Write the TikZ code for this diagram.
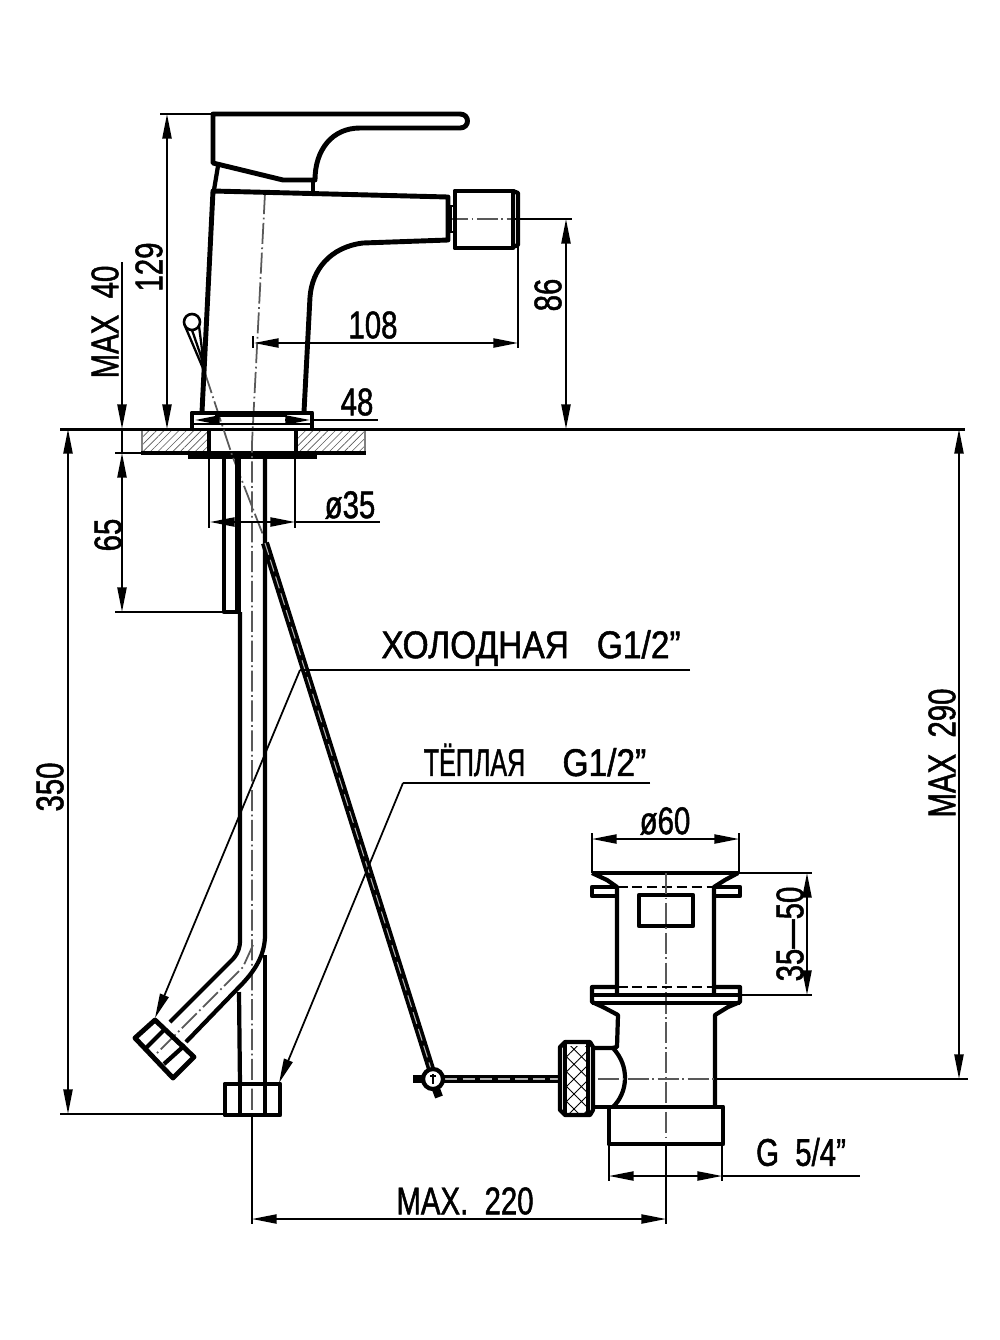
\documentclass[tikz,border=0pt]{standalone}
\usepackage{graphicx}
\usepackage{fontspec}
\setmainfont{Liberation Sans}[FakeStretch=0.76, FakeBold=1.2]
\usetikzlibrary{arrows.meta, patterns.meta}

\begin{document}
\begin{tikzpicture}[x=0.02cm, y=-0.02cm, >={Triangle[length=14pt, width=5.2pt]},
  part/.style={draw, line width=2.8pt, line join=round},
  wall/.style={draw, line width=2.4pt, line join=round},
  thinline/.style={draw, line width=1pt},
  dimline/.style={draw, line width=1pt, <->},
  axis/.style={draw, line width=1pt, gray!70!black, dash pattern=on 12pt off 2pt on 1pt off 2pt},
  hidden/.style={draw, line width=1.5pt, dash pattern=on 6pt off 2.5pt},
  rodline/.style={draw, line width=4.6pt},
  roddash/.style={draw=gray!60, line width=0.6pt, dash pattern=on 7pt off 3pt},
  dimlabel/.style={font=\fontsize{22}{22}\selectfont, inner sep=0pt},
  vlabel/.style={dimlabel, rotate=90},
  widelabel/.style={dimlabel, xscale=1.14}]

  \useasboundingbox[fill=white] (0,0) rectangle (1000,1340);

  % Counter top
  \path[pattern={Lines[angle=45, distance=3pt, line width=0.35pt]}, pattern color=gray!70!black]
    (142,431) rectangle (208,452) (297,431) rectangle (365,452);
  \draw[line width=0.6pt, gray] (142,431) -- (142,452) (365,431) -- (365,452);
  \draw[line width=2pt] (60,429.5) -- (965,429.5);
  \draw[line width=2.2pt] (141,453) -- (366,453);
  \draw[wall] (209,430) -- (209,453) (296,430) -- (296,453);
  \fill (188,454) rectangle (317,459);

  % Axes of the tap
  \path[axis] (265,193) -- (252,443) -- (252,1113);
  \path[axis] (447,219) -- (513,219);
  \path[axis] (205,373) -- (232,455) -- (265,540);

  % Lever
  \path[part] (213,114) -- (460,114) .. controls (470,114) and (470,128) .. (460,128) -- (360,128)
    .. controls (332,128) and (315,150) .. (315,180) -- (283,180) -- (213,163) -- cycle;
  \path[wall] (218,166) -- (214,190);
  \path[wall] (313,181) -- (313,192);

  % Body and spout
  \path[part] (202,412) -- (213,191) -- (448,197) -- (448,240) -- (363,243)
    .. controls (330,247) and (312,270) .. (310,297) -- (304,412);

  % Aerator
  \path[part] (455,191) rectangle (513,248);
  \path[wall] (513,191) -- (518,193) -- (518,245) -- (513,247);
  \path[thinline] (448,206) -- (455,206) (448,232) -- (455,232) (451,206) -- (451,232);

  % Flange
  \path[part] (192,428) -- (192,413) -- (312,413) -- (312,428);
  \draw[line width=1.4pt] (192,424) -- (312,424);
  \draw[line width=1pt] (215,416) -- (287,416);

  % Pull rod knob
  \draw[line width=1.5pt] (192,322) circle[radius=8];
  \draw[line width=1.3pt] (185,326) -- (205,373) (199,326) -- (205,373) (192,330) -- (203,362);

  % Outlet pipes
  \path[wall] (224,459) -- (224,612) -- (238,612);
  \draw[line width=3.8pt] (238,459) -- (238,612);
  \path[wall] (240,612) -- (240,940) .. controls (240,948) and (238,953) .. (233,959) -- (170,1022);
  \path[wall] (265,459) -- (265,935) .. controls (265,955) and (255,970) .. (243,983) -- (186,1042);
  \path[wall] (239,992) -- (240,1085);
  \path[wall] (265,955) -- (265,1085);
  \path[axis] (253,945) -- (243,967) -- (153,1057);

  % Pipe nuts
  \path[part] (155,1020) -- (135,1038) -- (173,1078) -- (194,1057) -- cycle;
  \path[wall] (166,1028) -- (146,1048) (185,1045) -- (164,1064);
  \path[part] (225,1084) rectangle (280,1115);
  \path[wall] (240,1084) -- (240,1115) (265,1084) -- (265,1115);

  % Rod to the waste
  \path[rodline] (265,543) -- (432,1072);
  \path[roddash] (265,543) -- (432,1072);
  \path[rodline] (413,1079) -- (560,1079);
  \path[roddash] (445,1079) -- (560,1079);
  \draw[line width=2.4pt, fill=white] (433,1079) circle[radius=10];
  \draw[line width=0.7pt] (433,1074) -- (433,1084) (430,1076) -- (436,1076);
  \path[rodline] (436,1089) -- (439,1097);

  % Waste head
  \path[part] (592,873) -- (738,873);
  \path[wall] (592,873) -- (607,880) -- (617,887) -- (617,995);
  \path[wall] (738,873) -- (725,880) -- (714,887) -- (714,995);
  \path[hidden] (617,887) -- (714,887);
  \path[wall] (617,887) -- (592,887) -- (592,896) -- (617,896);
  \path[wall] (714,887) -- (740,887) -- (740,896) -- (714,896);
  \path[wall] (639,895) rectangle (693,926);
  \path[axis] (666,873) -- (666,1144);

  % Waste body
  \path[hidden] (617,987) -- (714,987);
  \path[wall] (617,987) -- (592,987) -- (592,1002) -- (603,1007) -- (618,1015) -- (617,1047) -- (612,1048) -- (593,1048);
  \path[wall] (714,987) -- (740,987) -- (740,1002) -- (728,1007) -- (715,1015) -- (715,1107);
  \path[part] (592,995) -- (740,995);
  \path[wall] (592,1003) -- (740,1003);
  \path[wall] (593,1107) -- (612,1107);
  \path[wall] (613,1048) .. controls (622,1058) and (625,1068) .. (625,1078) .. controls (625,1090) and (620,1100) .. (613,1107);
  \path[part] (609,1107) rectangle (723,1144);
  \path[axis] (598,1079) -- (715,1079);

  % Knurled knob
  \path[pattern={Hatch[angle=45, distance=6pt, line width=0.5pt]}] (567,1046) rectangle (588,1112);
  \path[wall] (565,1042) -- (590,1042) -- (593,1047) -- (593,1110) -- (590,1115) -- (565,1115) -- (560,1110) -- (560,1047) -- cycle;
  \draw[line width=2.8pt] (565,1044) -- (565,1113);
  \path[wall] (588,1043) -- (588,1114);

  % Height dimensions
  \path[dimline] (167,114) -- (167,429);
  \path[thinline] (160,114) -- (213,114);
  \path[thinline, ->] (122,262) -- (122,429);
  \path[thinline] (122,429) -- (122,453);
  \path[dimline] (122,453) -- (122,612);
  \path[thinline] (115,453) -- (141,453) (115,612) -- (224,612);
  \path[dimline] (566,219) -- (566,429);
  \path[thinline] (513,219) -- (572,219);
  \path[dimline] (68,429) -- (68,1114);
  \path[thinline] (60,1114) -- (225,1114);
  \path[dimline] (959,429) -- (959,1079);
  \path[thinline] (715,1079) -- (968,1079);
  \path[dimline] (807,873) -- (807,995);
  \path[thinline] (738,873) -- (812,873) (740,995) -- (812,995);

  % Width dimensions
  \path[dimline] (254,343) -- (518,343);
  \path[thinline] (253,336) -- (253,348) (518,246) -- (518,348);
  \path[thinline, ->] (218,420) -- (195,420);
  \path[thinline, ->] (285,420) -- (310,420);
  \path[thinline] (310,420) -- (378,420);
  \path[dimline] (210,522) -- (295,522);
  \path[thinline] (209,459) -- (209,528) (295,459) -- (295,528) (295,522) -- (380,522);
  \path[dimline] (592,839) -- (739,839);
  \path[thinline] (592,833) -- (592,873) (739,833) -- (739,873);
  \path[dimline] (609,1176) -- (722,1176);
  \path[thinline] (609,1144) -- (609,1181) (722,1144) -- (722,1181) (722,1176) -- (860,1176);
  \path[dimline] (252,1219) -- (666,1219);
  \path[thinline] (252,1115) -- (252,1224) (666,1144) -- (666,1224);

  % Leaders to the hoses
  \coordinate (coldend) at (690,670);
  \coordinate (coldbend) at (300,670);
  \coordinate (coldtip) at (155,1018);
  \coordinate (warmend) at (650,783);
  \coordinate (warmbend) at (403,783);
  \coordinate (warmtip) at (279,1083);
  \path[thinline] (coldend) -- (coldbend);
  \path[thinline, ->] (coldbend) -- (coldtip);
  \path[thinline] (warmend) -- (warmbend);
  \path[thinline, ->] (warmbend) -- (warmtip);

  % Labels
  \node[vlabel] (h129) at (149,267) {129};
  \node[vlabel] (max40) at (105,322) {MAX\ \ 40};
  \node[vlabel] (h86) at (548,295) {86};
  \node[vlabel] (h65) at (108,535) {65};
  \node[vlabel] (h350) at (50,787) {350};
  \node[vlabel] (max290) at (942,753) {MAX\ \ 290};
  \node[vlabel] (h3550) at (790,934) {35---50};
  \node[dimlabel] (w108) at (373,325) {108};
  \node[dimlabel] (w48) at (357,402) {48};
  \node[dimlabel] (d35) at (350,505) {ø35};
  \node[dimlabel] (d60) at (665,821) {ø60};
  \node[dimlabel] (g54) at (801,1152) {G\ \ 5/4"};
  \node[dimlabel] (max220) at (465,1201) {MAX.\ \ 220};
  \node[widelabel] (cold) at (531,648) {ХОЛОДНАЯ\ \ \ G1/2"};
  \node[widelabel] (warm) at (535,760) {\scalebox{0.75}[1]{ТЁПЛАЯ}\ \ \ \ G1/2"};

\end{tikzpicture}
\end{document}
